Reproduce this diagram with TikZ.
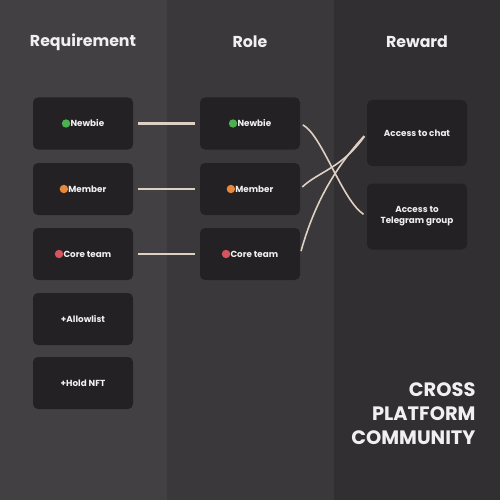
\documentclass[tikz,border=0pt]{standalone}
\usepackage{fontspec}
\setmainfont{Poppins}
\definecolor{colA}{RGB}{66,64,67}
\definecolor{colB}{RGB}{58,56,59}
\definecolor{colC}{RGB}{49,47,50}
\definecolor{boxc}{RGB}{35,33,36}
\definecolor{linec}{RGB}{222,208,194}
\definecolor{txt}{RGB}{240,240,240}
\definecolor{dgreen}{RGB}{76,175,80}
\definecolor{dorange}{RGB}{232,136,58}
\definecolor{dred}{RGB}{214,84,94}
\newcommand\mydot[1]{\tikz[baseline=-0.7ex]\fill[#1] (0,0) circle (4.2pt);\hspace{0.3pt}}
\begin{document}
\begin{tikzpicture}[x=1pt,y=-1pt,
  card/.style={fill=boxc, rounded corners=5pt, minimum width=100pt, minimum height=52pt, text=txt, font=\fontsize{8.8}{11}\selectfont\bfseries, align=center, inner sep=0pt},
  tallcard/.style={card, minimum height=66pt},
  heading/.style={text=txt, font=\fontsize{15.8}{18}\selectfont\bfseries},
  link/.style={draw=linec, line width=2.2pt, shorten <=5pt, shorten >=5pt},
  curvy/.style={draw=linec, line width=1.6pt, shorten <=3pt, shorten >=4pt}]
\useasboundingbox (0,0) rectangle (500,500);
\fill[colA] (0,0) rectangle (167,500);
\fill[colB] (167,0) rectangle (334,500);
\fill[colC] (334,0) rectangle (500,500);
\node[heading] (hreq) at (83,42) {Requirement};
\node[heading] (hrole) at (250,42) {Role};
\node[heading] (hrew) at (417,42) {Reward};
\node[card] (r1) at (83,123.5) {\mydot{dgreen}Newbie};
\node[card] (r2) at (83,189) {\mydot{dorange}Member};
\node[card] (r3) at (83,254) {\mydot{dred}Core team};
\node[card] (r4) at (83,319) {+Allowlist};
\node[card] (r5) at (83,383) {+Hold NFT};
\node[card] (o1) at (250,123.5) {\mydot{dgreen}Newbie};
\node[card] (o2) at (250,189) {\mydot{dorange}Member};
\node[card] (o3) at (250,254) {\mydot{dred}Core team};
\node[tallcard] (w1) at (417,133) {Access to chat};
\node[tallcard] (w2) at (417,216.5) {Access to\\Telegram group};
\draw[link] (r1.east) -- (o1.west);
\draw[link] (r2.east) -- (o2.west);
\draw[link] (r3.east) -- (o3.west);
\draw[curvy] (o1.east) .. controls (322,135) and (342,200) .. (w2.west);
\draw[curvy] (o2.east) .. controls (318,172) and (342,168) .. (w1.west);
\draw[curvy] (o3.east) .. controls (316,198) and (338,165) .. (w1.west);
\node[text=txt, font=\fontsize{19.4}{24}\selectfont\bfseries, align=right, anchor=east] (title) at (479,414) {CROSS\\PLATFORM\\COMMUNITY};
\end{tikzpicture}
\end{document}
